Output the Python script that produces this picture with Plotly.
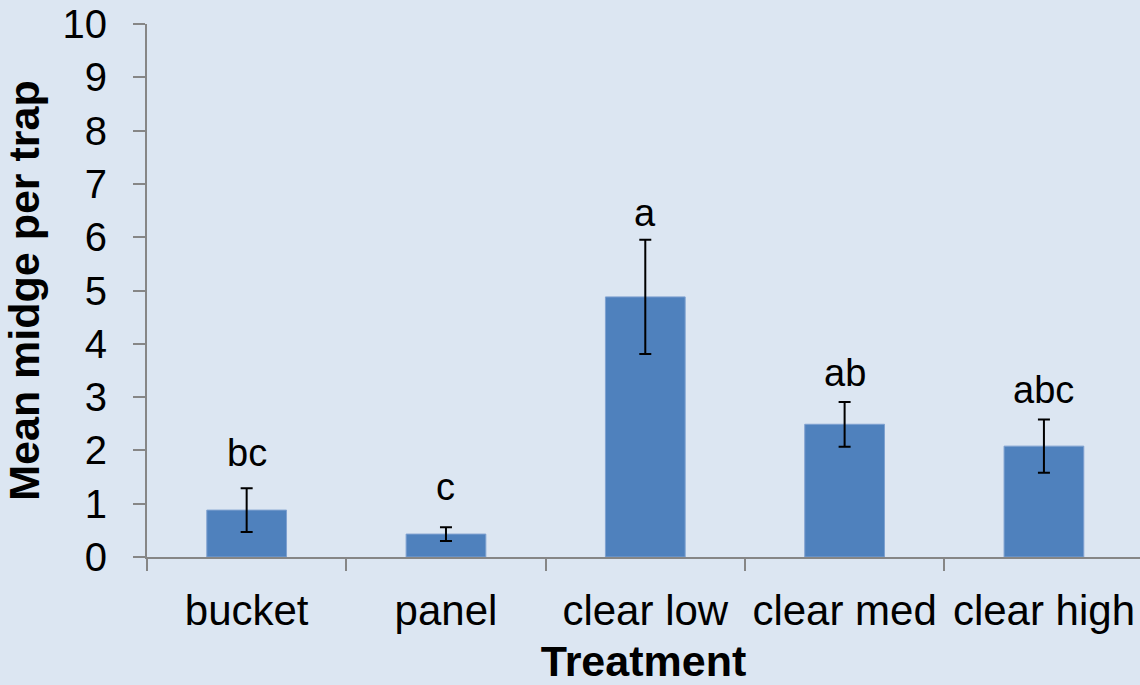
import plotly.graph_objects as go

# Mean midge catch per trap by treatment, with standard errors
treatments = ["bucket", "panel", "clear low", "clear med", "clear high"]
mean_midge = [0.88, 0.43, 4.88, 2.49, 2.08]
std_err = [0.41, 0.13, 1.07, 0.42, 0.50]
group_letters = ["bc", "c", "a", "ab", "abc"]
letter_heights = [1.96, 1.32, 6.46, 3.46, 3.14]

FONT = "Liberation Sans, Arial, sans-serif"
BG = "#DCE6F2"
AXIS = "#868686"

fig = go.Figure()
fig.add_trace(go.Bar(
    x=treatments,
    y=mean_midge,
    width=0.4,
    marker=dict(color="#4F81BD", line=dict(color="#7FA1D0", width=1)),
    error_y=dict(type="data", array=std_err, visible=True,
                 color="black", thickness=2, width=6),
    showlegend=False,
))

for t, lab, h in zip(treatments, group_letters, letter_heights):
    fig.add_annotation(x=t, y=h, text=lab, showarrow=False,
                       font=dict(family=FONT, size=38, color="black"),
                       xanchor="center", yanchor="middle")

fig.update_layout(
    width=1140, height=685,
    paper_bgcolor=BG, plot_bgcolor=BG,
    margin=dict(l=147, r=0, t=24, b=128),
    font=dict(family=FONT, color="black"),
    bargap=0.6,
)
fig.update_xaxes(
    range=[-0.5, 4.482],
    showline=True, linecolor=AXIS, linewidth=2,
    ticks="outside", ticklen=12, tickcolor=AXIS, tickwidth=2,
    tickson="boundaries",
    tickfont=dict(family=FONT, size=42, color="black"),
    ticklabelstandoff=16,
    showgrid=False, zeroline=False,
    title=dict(text="<b>Treatment</b>",
               font=dict(family=FONT, size=43, color="black"), standoff=14),
)
fig.update_yaxes(
    range=[0, 10], dtick=1,
    showline=True, linecolor=AXIS, linewidth=2,
    ticks="outside", ticklen=12, tickcolor=AXIS, tickwidth=2,
    tickfont=dict(family=FONT, size=40, color="black"),
    ticklabelstandoff=18,
    showgrid=False, zeroline=False,
    title=dict(text="<b>Mean midge per trap</b>",
               font=dict(family=FONT, size=43, color="black"), standoff=10),
)

fig.write_html("out.html")
